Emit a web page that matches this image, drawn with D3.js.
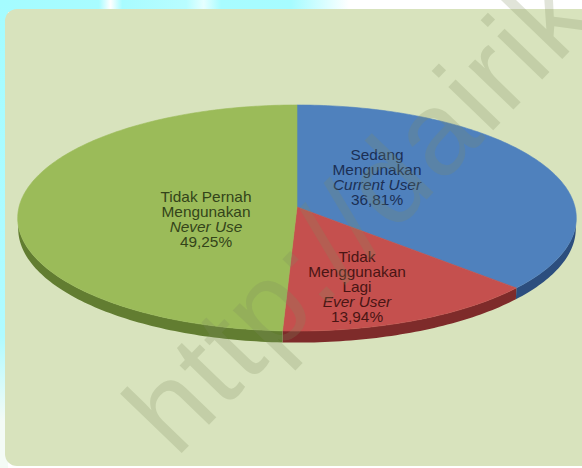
<!DOCTYPE html>
<html><head><meta charset="utf-8">
<script src="https://cdn.jsdelivr.net/npm/d3@7"></script>
<style>html,body{margin:0;padding:0;background:#fff;overflow:hidden}svg{display:block}</style>
</head><body>
<svg id="chart" width="582" height="468"></svg>
<script>
// Slices, in drawing order from 12 o'clock clockwise
const categories = ["Sedang Mengunakan", "Tidak Menggunakan Lagi", "Tidak Pernah Mengunakan"];
const labelLinesId = [["Sedang", "Mengunakan"], ["Tidak", "Menggunakan", "Lagi"], ["Tidak Pernah", "Mengunakan"]];
const labelLinesEn = ["Current User", "Ever User", "Never Use"];
const values = [36.81, 13.94, 49.25];
const valueLabels = ["36,81%", "13,94%", "49,25%"];
const watermarkText = "http://dairik";

const topColors = ["#4f81bd", "#c5504e", "#9bbb59"];
const sideColors = ["#2c4e7e", "#7e2b2a", "#627d31"];
const textColors = ["#1b2f54", "#4a1514", "#33441a"];

const W = 582, H = 468;
const svg = d3.select("#chart");

// backdrop strips behind the panel
const defs = svg.append("defs");
const gTop = defs.append("linearGradient").attr("id", "gTop").attr("x1", 0).attr("x2", 1).attr("y1", 0).attr("y2", 0);
[["0%", "#a4fcff"], ["17%", "#a8fcff"], ["19%", "#ffffff"], ["21%", "#a8fcff"], ["32%", "#b8fdff"],
 ["35%", "#e6ffff"], ["38%", "#a8fcff"], ["50%", "#a6fcff"], ["60%", "#ffffff"], ["100%", "#ffffff"]]
  .forEach(([o, c]) => gTop.append("stop").attr("offset", o).attr("stop-color", c));
const gLeft = defs.append("linearGradient").attr("id", "gLeft").attr("x1", 0).attr("x2", 0).attr("y1", 0).attr("y2", 1);
[["0%", "#a4fcff"], ["72%", "#b0fbff"], ["90%", "#f4fbf6"]]
  .forEach(([o, c]) => gLeft.append("stop").attr("offset", o).attr("stop-color", c));

svg.append("rect").attr("width", W).attr("height", H).attr("fill", "#ffffff");
svg.append("rect").attr("x", 0).attr("y", 0).attr("width", W).attr("height", 12).attr("fill", "url(#gTop)");
svg.append("rect").attr("x", 0).attr("y", 0).attr("width", 8).attr("height", H).attr("fill", "url(#gLeft)");

// chart panel
svg.append("rect")
  .attr("x", 5).attr("y", 9).attr("width", W + 20).attr("height", 457)
  .attr("rx", 12).attr("ry", 12)
  .attr("fill", "#d8e3bd");

// 3D pie: a tilted disc seen through a perspective camera
const cam = { cx: 297, cy: 207, f: 2610, D: 9.39, tilt: 23.75 * Math.PI / 180, thick: 0.042 };
const cosT = Math.cos(cam.tilt), sinT = Math.sin(cam.tilt);
function project(theta, r, depth) {
  const u = r * Math.sin(theta), v = r * Math.cos(theta);
  const yc = v * sinT - depth * cosT;
  const z = cam.D + v * cosT + depth * sinT;
  return [cam.cx + cam.f * u / z, cam.cy - cam.f * yc / z];
}
// silhouette angles of the rim (front-facing side lies between them)
const silA = Math.acos(-cosT / cam.D);
const frontFrom = silA, frontTo = 2 * Math.PI - silA;

const pie = d3.pie().sort(null).value(d => d).startAngle(0).endAngle(2 * Math.PI);
const arcs = pie(values);
const line = d3.line();
function rim(a0, a1, depth) {
  const n = Math.max(2, Math.ceil((a1 - a0) / (Math.PI / 180)));
  return d3.range(n + 1).map(i => project(a0 + (a1 - a0) * i / n, 1, depth));
}

const pieG = svg.append("g");
// side walls
arcs.forEach((a, i) => {
  const s0 = Math.max(a.startAngle, frontFrom), s1 = Math.min(a.endAngle, frontTo);
  if (s1 <= s0) return;
  const pts = rim(s0, s1, 0).concat(rim(s0, s1, cam.thick).reverse());
  pieG.append("path").attr("d", line(pts) + "Z").attr("fill", sideColors[i]);
});
// top faces
arcs.forEach((a, i) => {
  const pts = [project(0, 0, 0)].concat(rim(a.startAngle, a.endAngle, 0));
  pieG.append("path").attr("d", line(pts) + "Z")
    .attr("fill", topColors[i])
    .attr("stroke", topColors[i]).attr("stroke-width", 0.6);
});

// slice labels
const labelCenters = [[377, 177.5], [357, 287], [206, 219.5]];
const lineH = 14.8;
arcs.forEach((a, i) => {
  const lines = labelLinesId[i].map(t => ({ t, it: false }))
    .concat([{ t: labelLinesEn[i], it: true }, { t: valueLabels[i], it: false }]);
  const [lx, ly] = labelCenters[i];
  const top = ly - (lines.length - 1) * lineH / 2;
  const g = svg.append("g").attr("transform", `translate(${lx},${top}) scale(1.1,1)`);
  g.selectAll("text").data(lines).join("text")
    .attr("x", 0).attr("y", (d, k) => k * lineH + 5)
    .attr("text-anchor", "middle")
    .attr("font-family", "Liberation Sans, Arial, sans-serif")
    .attr("font-size", 14)
    .attr("font-style", d => d.it ? "italic" : "normal")
    .attr("fill", textColors[i])
    .text(d => d.t);
});

// watermark
svg.append("text")
  .attr("transform", "translate(176,459) rotate(-46)")
  .attr("font-family", "Liberation Sans, Arial, sans-serif")
  .attr("font-size", 118)
  .attr("letter-spacing", 2.5)
  .attr("fill", "#7f8c60")
  .attr("opacity", 0.23)
  .text(watermarkText);
</script>
</body></html>
